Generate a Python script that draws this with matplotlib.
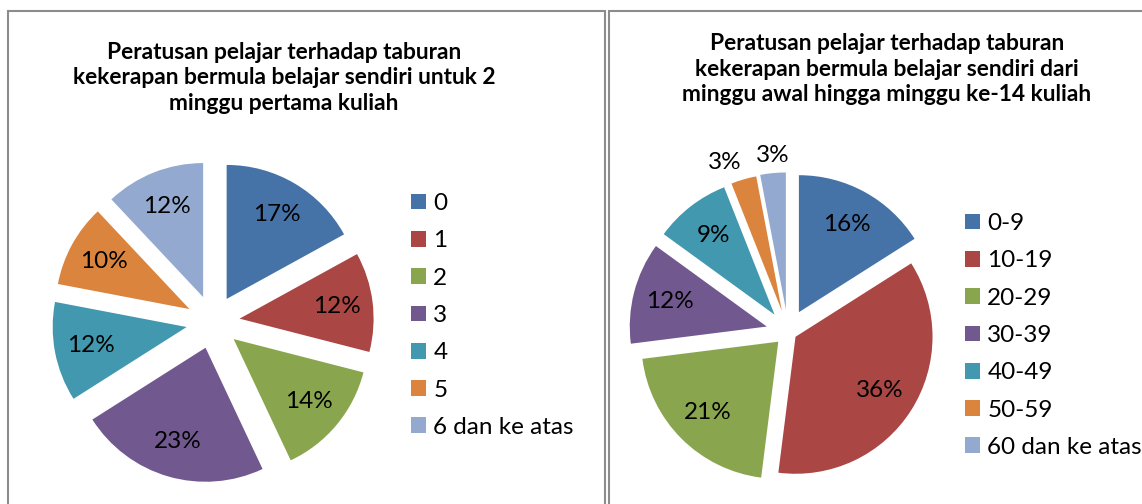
import matplotlib
matplotlib.use('Agg')
import matplotlib.pyplot as plt
from matplotlib.patches import Rectangle
import numpy as np

plt.rcParams['font.family'] = ['Lato', 'DejaVu Sans']

# ---------------- data ----------------
title_left = ("Peratusan pelajar terhadap taburan\n"
              "kekerapan bermula belajar sendiri untuk 2\n"
              "minggu pertama kuliah")
title_right = ("Peratusan pelajar terhadap taburan\n"
               "kekerapan bermula belajar sendiri dari\n"
               "minggu awal hingga minggu ke-14 kuliah")

cats_left = ["0", "1", "2", "3", "4", "5", "6 dan ke atas"]
vals_left = [17, 12, 14, 23, 12, 10, 12]

cats_right = ["0-9", "10-19", "20-29", "30-39", "40-49", "50-59", "60 dan ke atas"]
vals_right = [16, 36, 21, 12, 9, 3, 3]

# ---------------- style ----------------
colors = ['#4572A7', '#AA4643', '#89A54E', '#71588F', '#4198AF', '#DB843D', '#93A9CF']
explode_left = [0.2] * 7                                   # fraction of radius
explode_right = [0.165, 0.065, 0.10, 0.16, 0.16, 0.16, 0.165]

W, H = 1142, 504
fig = plt.figure(figsize=(W / 100, H / 100), dpi=100)
ax = fig.add_axes([0, 0, 1, 1])

LBL_FS = 17.5
TITLE_FS = 16.4

# panel borders
border_kw = dict(fill=False, edgecolor='#8c8c8c', linewidth=1.5)
ax.add_patch(Rectangle((7.5, -10), 597.5, H - 11 + 10, **border_kw))
ax.add_patch(Rectangle((608.5, -10), 560, H - 11 + 10, **border_kw))

R1, R2 = 134, 137

# left pie
w1, t1, a1 = ax.pie(vals_left, colors=colors, explode=[e * R1 for e in explode_left],
                    startangle=90, counterclock=False, center=(213, H - 322), radius=R1,
                    autopct='%.0f%%', pctdistance=0.73,
                    textprops=dict(fontsize=LBL_FS, color='black'),
                    wedgeprops=dict(linewidth=0), frame=True)

# right pie
w2, t2, a2 = ax.pie(vals_right, colors=colors, explode=[e * R2 for e in explode_right],
                    startangle=90, counterclock=False, center=(788, H - 332), radius=R2,
                    autopct='%.0f%%', pctdistance=0.73,
                    textprops=dict(fontsize=LBL_FS, color='black'),
                    wedgeprops=dict(linewidth=0), frame=True)

# small slices: labels outside
for w, txt, v in zip(w2, a2, vals_right):
    if v < 5:
        mid = np.deg2rad((w.theta1 + w.theta2) / 2)
        cx, cy = w.center
        rr = w.r * 1.05
        txt.set_position((cx + rr * np.cos(mid), cy + rr * np.sin(mid)))
        txt.set_va('bottom')
        txt.set_ha('right' if np.cos(mid) < -0.2 else 'center')

# titles
ax.text(284, H - 78, title_left, ha='center', va='center', fontsize=TITLE_FS,
        fontweight='bold', linespacing=1.26)
ax.text(887, H - 69, title_right, ha='center', va='center', fontsize=TITLE_FS,
        fontweight='bold', linespacing=1.26)

leg_kw = dict(loc='center left', frameon=False, fontsize=LBL_FS, handlelength=0.62,
              handleheight=0.62, handletextpad=0.3, borderaxespad=0, borderpad=0,
              labelspacing=0.67, bbox_transform=ax.transData)
leg1 = ax.legend(w1, cats_left, bbox_to_anchor=(411, H - 315.5), **leg_kw)
ax.add_artist(leg1)
leg2 = ax.legend(w2, cats_right, bbox_to_anchor=(965, H - 335.5), **leg_kw)

ax.set_xlim(0, W)
ax.set_ylim(0, H)
ax.set_aspect('auto')
ax.axis('off')

fig.savefig('out.png', dpi=100)
